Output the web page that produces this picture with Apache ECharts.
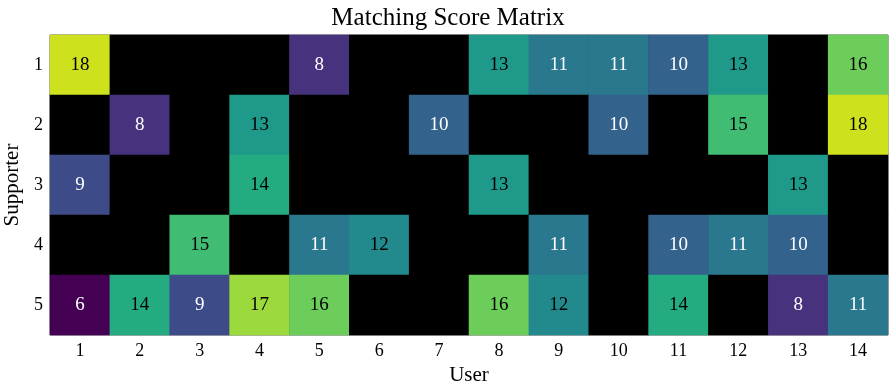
<!DOCTYPE html>
<html>
<head>
<meta charset="utf-8">
<script src="https://cdn.jsdelivr.net/npm/echarts@6/dist/echarts.min.js"></script>
<style>html,body{margin:0;padding:0;background:#fff}#c{width:896px;height:392px}</style>
</head>
<body>
<div id="c"></div>
<script>
const users = ['1','2','3','4','5','6','7','8','9','10','11','12','13','14'];
const supporters = ['1','2','3','4','5'];
const row1 = [18,0,0,0,8,0,0,13,11,11,10,13,0,16];
const row2 = [0,8,0,13,0,0,10,0,0,10,0,15,0,18];
const row3 = [9,0,0,14,0,0,0,13,0,0,0,0,13,0];
const row4 = [0,0,15,0,11,12,0,0,11,0,10,11,10,0];
const row5 = [6,14,9,17,16,0,0,16,12,0,14,0,8,11];
const rows = [row1,row2,row3,row4,row5];
const valueColors = {
  0:'#000000',6:'#440154',7:'#481a6c',8:'#47327e',9:'#3d4b89',10:'#33628d',
  11:'#29788e',12:'#22898c',13:'#1f9a8a',14:'#25ab82',15:'#40bd72',
  16:'#6ccd5a',17:'#9bd93c',18:'#cde11d'
};
const FONT = '"Liberation Serif", "DejaVu Serif", serif';
const data = [];
rows.forEach((r, yi) => r.forEach((v, xi) => data.push({value:[xi, yi, v], label:{color: v <= 11 ? '#fff' : '#000'}})));
const pieces = Object.keys(valueColors).map(k => ({value:+k, color:valueColors[k]}));
const chart = echarts.init(document.getElementById('c'));
chart.setOption({
  backgroundColor:'#fff',
  animation:false,
  title:{text:'Matching Score Matrix', left:'center', top:1,
    textStyle:{fontFamily:FONT, fontSize:25, fontWeight:'normal', color:'#000'}},
  grid:{left:50, right:8, top:35, bottom:57, show:true, borderColor:'#555', borderWidth:1, backgroundColor:'#000',
    containLabel:false, outerBoundsMode:'none'},
  xAxis:{type:'category', data:users, name:'User', nameLocation:'middle', nameGap:28,
    nameTextStyle:{fontFamily:FONT, fontSize:21, color:'#000'},
    axisLine:{show:false}, axisTick:{show:false}, splitLine:{show:false},
    axisLabel:{fontFamily:FONT, fontSize:18, color:'#000', margin:7}},
  yAxis:{type:'category', data:supporters, inverse:true, name:'Supporter', nameLocation:'middle', nameGap:25,
    nameTextStyle:{fontFamily:FONT, fontSize:21, color:'#000'},
    axisLine:{show:false}, axisTick:{show:false}, splitLine:{show:false},
    axisLabel:{fontFamily:FONT, fontSize:18, color:'#000', margin:7}},
  visualMap:{type:'piecewise', show:false, dimension:2, pieces:pieces},
  series:[{type:'heatmap', data:data,
    itemStyle:{borderWidth:0},
    label:{show:true, fontFamily:FONT, fontSize:19,
      formatter:p => p.value[2] === 0 ? '' : String(p.value[2])},
    emphasis:{disabled:true}
  }]
});
</script>
</body>
</html>
